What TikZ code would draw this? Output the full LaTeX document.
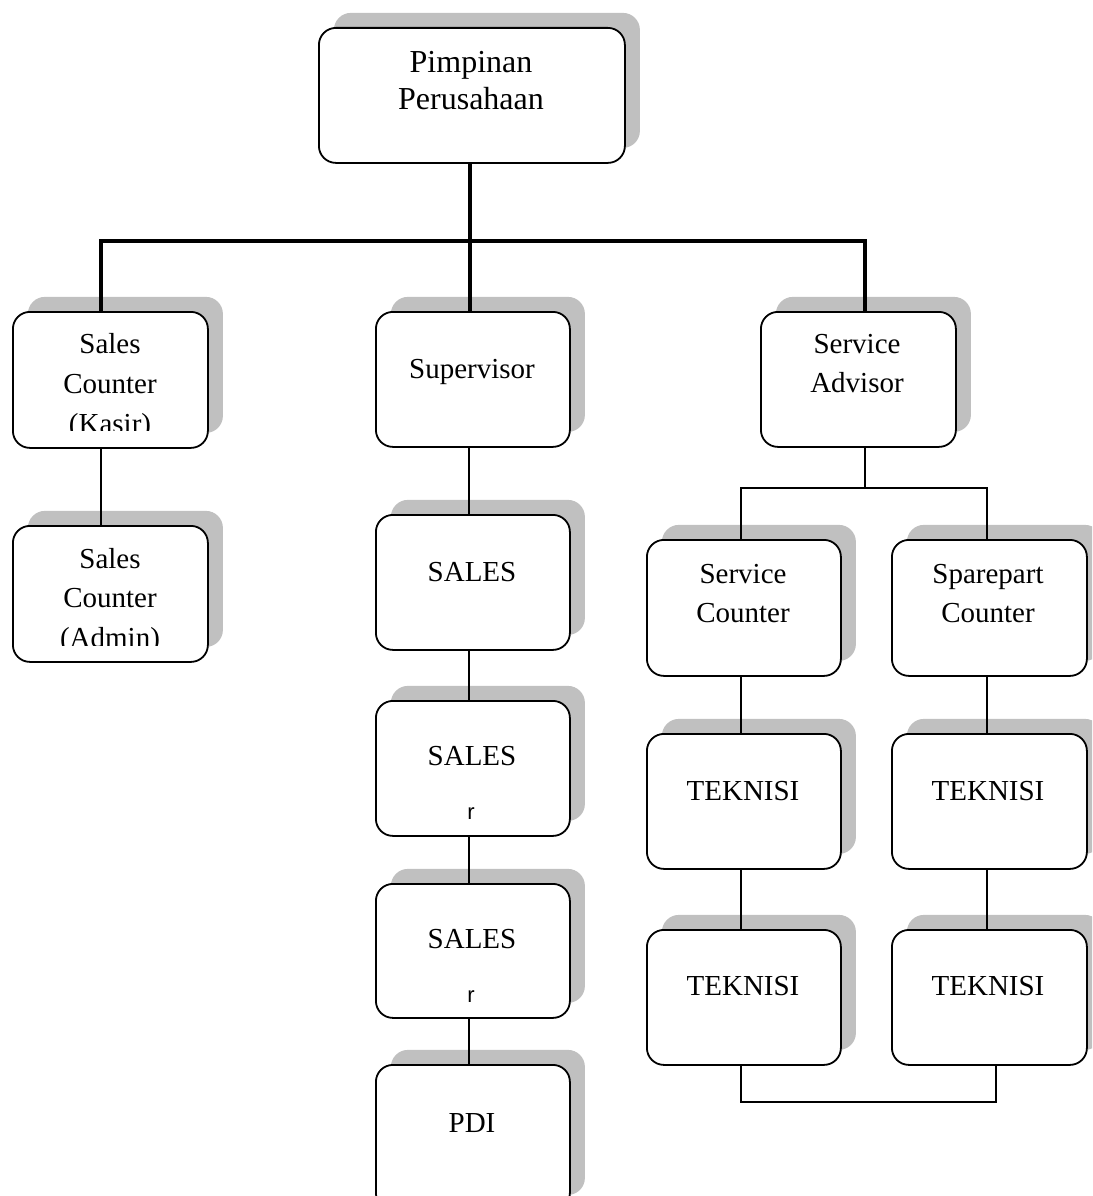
\documentclass[tikz,border=0pt]{standalone}
\usepackage{fontspec}
\setmainfont{Liberation Serif}
\newfontfamily\rfont{Liberation Sans}
\usetikzlibrary{shadows}
\definecolor{shadowgray}{HTML}{C0C0C0}
\tikzset{
  orgbox/.style={draw=black, line width=1.8pt, rounded corners=17pt, fill=white,
    inner sep=0pt, anchor=north west,
    general shadow={fill=shadowgray, shadow xshift=15pt, shadow yshift=15pt}},
  lbl/.style={anchor=base, inner sep=0pt, font=\fontsize{29}{40}\selectfont},
  biglbl/.style={anchor=base, inner sep=0pt, font=\fontsize{32}{37}\selectfont},
  rlbl/.style={anchor=base, inner sep=0pt, font=\rfont\fontsize{22}{26}\selectfont},
  conn/.style={draw=black, line width=1.6pt},
  busline/.style={draw=black, line width=3.6pt, line join=miter},
}
\newcommand{\obox}[5]{\node[orgbox, minimum width=#4pt, minimum height=#5pt] (#1) at (#2,#3) {};}
\begin{document}
\begin{tikzpicture}[x=1pt,y=-1pt]
\useasboundingbox (0,0) rectangle (1092,1196);
\clip (0,0) rectangle (1092,1196);
\fill[white] (0,0) rectangle (1092,1196);

% boxes
\obox{top}{318}{27}{306}{135}
\obox{kasir}{12}{311}{195}{136}
\obox{admin}{12}{525}{195}{136}
\obox{sup}{375}{311}{194}{135}
\obox{salesA}{375}{514}{194}{135}
\obox{salesB}{375}{700}{194}{135}
\obox{salesC}{375}{883}{194}{134}
\obox{pdi}{375}{1064}{194}{145}
\obox{adv}{760}{311}{195}{135}
\obox{svc}{646}{539}{194}{136}
\obox{spare}{891}{539}{195}{136}
\obox{tekAL}{646}{733}{194}{135}
\obox{tekAR}{891}{733}{195}{135}
\obox{tekBL}{646}{929}{194}{135}
\obox{tekBR}{891}{929}{195}{135}

% coordinates for connector columns
\coordinate (busL) at (101,241);
\coordinate (busM) at (470,241);
\coordinate (busR) at (865,241);
\coordinate (colL) at (101,0);
\coordinate (colM) at (469,0);
\coordinate (forkY) at (0,488);
\coordinate (colSL) at (741,0);
\coordinate (colSR) at (987,0);
\coordinate (botR) at (996,0);
\coordinate (botY) at (0,1102);

% thick bus
\draw[busline] (top.south -| busM) -- (busM);
\draw[busline] (kasir.north -| busL) -- (busL) -- (busR) -- (adv.north -| busR);
\draw[busline] (busM) -- (sup.north -| busM);

% thin connectors
\draw[conn] (kasir.south -| colL) -- (admin.north -| colL);
\draw[conn] (sup.south -| colM) -- (salesA.north -| colM);
\draw[conn] (salesA.south -| colM) -- (salesB.north -| colM);
\draw[conn] (salesB.south -| colM) -- (salesC.north -| colM);
\draw[conn] (salesC.south -| colM) -- (pdi.north -| colM);
\draw[conn] (adv.south -| busR) -- (forkY -| busR);
\draw[conn] (svc.north -| colSL) -- (forkY -| colSL) -- (forkY -| colSR) -- (spare.north -| colSR);
\draw[conn] (svc.south -| colSL) -- (tekAL.north -| colSL);
\draw[conn] (tekAL.south -| colSL) -- (tekBL.north -| colSL);
\draw[conn] (spare.south -| colSR) -- (tekAR.north -| colSR);
\draw[conn] (tekAR.south -| colSR) -- (tekBR.north -| colSR);
\draw[conn] (tekBL.south -| colSL) -- (botY -| colSL) -- (botY -| botR) -- (tekBR.south -| botR);

% texts
\node[biglbl] (t1a) at (471,73) {Pimpinan};
\node[biglbl] (t1b) at (471,110) {Perusahaan};

\begin{scope}
\clip (12,311) rectangle (207,430);
\node[lbl] (k1) at (110,353) {Sales};
\node[lbl] (k2) at (110,393) {Counter};
\node[lbl] (k3) at (110,433) {(Kasir)};
\end{scope}
\begin{scope}
\clip (12,525) rectangle (207,645);
\node[lbl] (a1) at (110,568) {Sales};
\node[lbl] (a2) at (110,607) {Counter};
\node[lbl] (a3) at (110,647) {(Admin)};
\end{scope}

\node[lbl] (s1) at (472,378) {Supervisor};
\node[lbl] (s2) at (472,581) {SALES};
\node[lbl] (s3) at (472,765) {SALES};
\node[rlbl] (s3r) at (471,819) {r};
\node[lbl] (s4) at (472,948) {SALES};
\node[rlbl] (s4r) at (471,1002) {r};
\node[lbl] (s5) at (472,1132) {PDI};

\node[lbl] (v1) at (857,353) {Service};
\node[lbl] (v2) at (857,392) {Advisor};
\node[lbl] (c1) at (743,583) {Service};
\node[lbl] (c2) at (743,622) {Counter};
\node[lbl] (p1) at (988,583) {Sparepart};
\node[lbl] (p2) at (988,622) {Counter};
\node[lbl] (e1) at (743,800) {TEKNISI};
\node[lbl] (e2) at (988,800) {TEKNISI};
\node[lbl] (e3) at (743,995) {TEKNISI};
\node[lbl] (e4) at (988,995) {TEKNISI};
\end{tikzpicture}
\end{document}
